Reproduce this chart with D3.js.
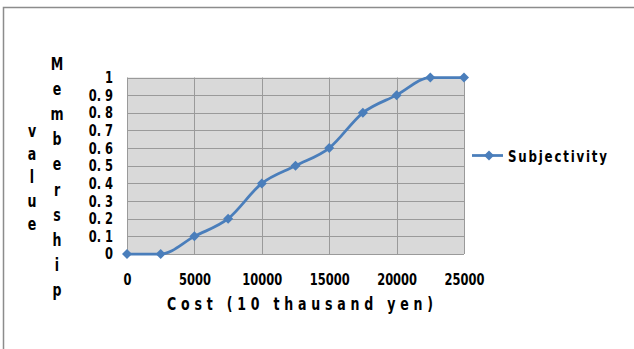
<!DOCTYPE html>
<html>
<head>
<meta charset="utf-8">
<script src="https://cdn.jsdelivr.net/npm/d3@7"></script>
<style>
  html, body { margin: 0; padding: 0; background: #fff; }
  svg { display: block; }
  text { font-family: "DejaVu Sans", sans-serif; fill: #000; }
</style>
</head>
<body>
<svg id="chart" width="634" height="349"></svg>
<script>
// Cost categories (10 thousand yen) and membership value of the "Subjectivity" series
const costs = [0, 2500, 5000, 7500, 10000, 12500, 15000, 17500, 20000, 22500, 25000];
const membership = [0, 0, 0.1, 0.2, 0.4, 0.5, 0.6, 0.8, 0.9, 1, 1];
const xTickLabels = [0, 5000, 10000, 15000, 20000, 25000];
const yTicks = [0, 0.1, 0.2, 0.3, 0.4, 0.5, 0.6, 0.7, 0.8, 0.9, 1];
const seriesName = "Subjectivity";
const yTitle = "Membership";
const yTitle2 = "value";
const xTitle = "Cost (10 thausand yen)";

const svg = d3.select("#chart");
const W = 634, H = 349;
const plot = { left: 127, right: 464, top: 77.5, bottom: 254 };
const blue = "#4a7ebb";
const narrow = 0.74; // horizontal squeeze for the narrow lettering

// chart frame
svg.append("rect")
  .attr("x", 3.5).attr("y", 7.5)
  .attr("width", W + 10).attr("height", H + 10)
  .attr("fill", "#fff")
  .attr("stroke", "#8c8c8c").attr("stroke-width", 1.5);

const x = d3.scalePoint().domain(costs).range([plot.left, plot.right]).padding(0);
const y = d3.scaleLinear().domain([0, 1]).range([plot.bottom, plot.top]);

// plot area background
svg.append("rect")
  .attr("x", plot.left).attr("y", plot.top)
  .attr("width", plot.right - plot.left).attr("height", plot.bottom - plot.top)
  .attr("fill", "#d9d9d9");

// horizontal gridlines
svg.append("g")
  .selectAll("line").data(yTicks).join("line")
  .attr("x1", plot.left).attr("x2", plot.right)
  .attr("y1", d => Math.round(y(d)) + 0.5).attr("y2", d => Math.round(y(d)) + 0.5)
  .attr("stroke", "#9a9a9a").attr("stroke-width", 1);

// vertical gridlines
svg.append("g")
  .selectAll("line").data(xTickLabels).join("line")
  .attr("x1", d => Math.round(x(d)) + 0.5).attr("x2", d => Math.round(x(d)) + 0.5)
  .attr("y1", plot.top).attr("y2", plot.bottom)
  .attr("stroke", "#9a9a9a").attr("stroke-width", 1);

// y axis tick labels
const yAxis = d3.axisLeft(y)
  .tickValues(yTicks)
  .tickSize(0).tickPadding(0)
  .tickFormat(d => d === 0 ? "0" : d === 1 ? "1" : "0. " + Math.round(d * 10));
const gy = svg.append("g").attr("transform", `translate(${plot.left - 14},0)`).call(yAxis);
gy.select(".domain").remove();
gy.selectAll("text")
  .attr("font-size", 15.5)
  .attr("font-weight", "bold")
  .attr("font-family", "DejaVu Sans, sans-serif")
  .attr("transform", `scale(${narrow},1)`)
  .attr("fill", "#000");

// x axis tick labels
const xAxis = d3.axisBottom(x)
  .tickValues(xTickLabels)
  .tickSize(0).tickPadding(0)
  .tickFormat(d3.format("d"));
const gx = svg.append("g").attr("transform", `translate(0,${plot.bottom + 20})`).call(xAxis);
gx.select(".domain").remove();
gx.selectAll("text")
  .attr("font-size", 15.5)
  .attr("font-weight", "bold")
  .attr("font-family", "DejaVu Sans, sans-serif")
  .attr("transform", `scale(${narrow},1)`)
  .attr("fill", "#000");

// series line (smoothed)
const line = d3.line()
  .x((d, i) => x(costs[i]))
  .y(d => y(d))
  .curve(d3.curveMonotoneX);
svg.append("path")
  .datum(membership)
  .attr("d", line)
  .attr("fill", "none")
  .attr("stroke", blue)
  .attr("stroke-width", 2.75)
  .attr("stroke-linejoin", "round");

// diamond markers
const diamond = d3.symbol().type(d3.symbolSquare).size(50);
svg.append("g")
  .selectAll("path").data(membership).join("path")
  .attr("d", diamond)
  .attr("transform", (d, i) => `translate(${x(costs[i])},${y(d)}) rotate(45)`)
  .attr("fill", blue);

// y axis title: letters stacked vertically in two columns
svg.append("g")
  .selectAll("text").data(yTitle.split("")).join("text")
  .attr("transform", (d, i) => `translate(57,${70 + i * 25.1}) scale(${narrow},1)`)
  .attr("text-anchor", "middle")
  .attr("font-size", 17)
  .attr("font-weight", "bold")
  .text(d => d);
svg.append("g")
  .selectAll("text").data(yTitle2.split("")).join("text")
  .attr("transform", (d, i) => `translate(32,${137 + i * 23.2}) scale(${narrow},1)`)
  .attr("text-anchor", "middle")
  .attr("font-size", 17)
  .attr("font-weight", "bold")
  .text(d => d);

// x axis title
svg.append("text")
  .attr("transform", `translate(167,310) scale(${narrow},1)`)
  .attr("font-size", 17)
  .attr("font-weight", "bold")
  .attr("textLength", 266 / narrow)
  .attr("lengthAdjust", "spacing")
  .text(xTitle);

// legend
const lg = svg.append("g").attr("transform", "translate(472,155.5)");
lg.append("line").attr("x1", 0).attr("x2", 31).attr("y1", 0).attr("y2", 0)
  .attr("stroke", blue).attr("stroke-width", 2.75);
lg.append("path").attr("d", diamond).attr("transform", "translate(17,0) rotate(45)").attr("fill", blue);
lg.append("text")
  .attr("transform", `translate(36,6) scale(${narrow},1)`)
  .attr("font-size", 16)
  .attr("font-weight", "bold")
  .attr("textLength", 99 / narrow)
  .attr("lengthAdjust", "spacing")
  .text(seriesName);
</script>
</body>
</html>
